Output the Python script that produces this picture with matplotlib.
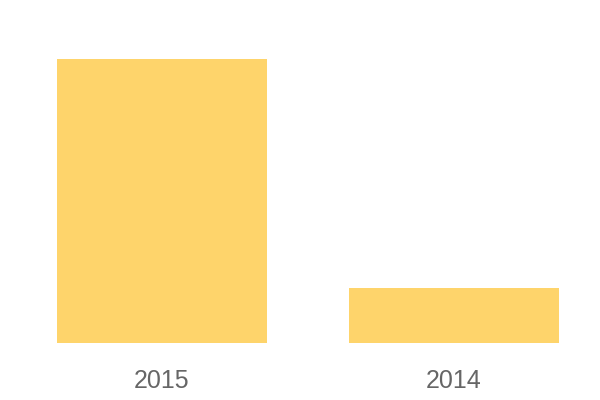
import matplotlib.pyplot as plt

# data
years = ["2015", "2014"]
values = [103, 20]

bar_color = "#FED46B"
label_color = "#666666"

fig = plt.figure(figsize=(6, 4), dpi=100)
ax = fig.add_axes([16 / 600, 57 / 400, 584 / 600, 284 / 400])

ax.bar(range(len(years)), values, width=0.72, color=bar_color)
ax.set_xlim(-0.5, len(years) - 0.5)
ax.set_ylim(0, max(values))

ax.set_xticks(range(len(years)))
ax.set_xticklabels(years, fontsize=18, color=label_color, family=["Liberation Sans", "DejaVu Sans"])
ax.tick_params(axis="x", length=0, pad=18.5)
ax.set_yticks([])
for s in ax.spines.values():
    s.set_visible(False)

fig.savefig("out.png", dpi=100)
